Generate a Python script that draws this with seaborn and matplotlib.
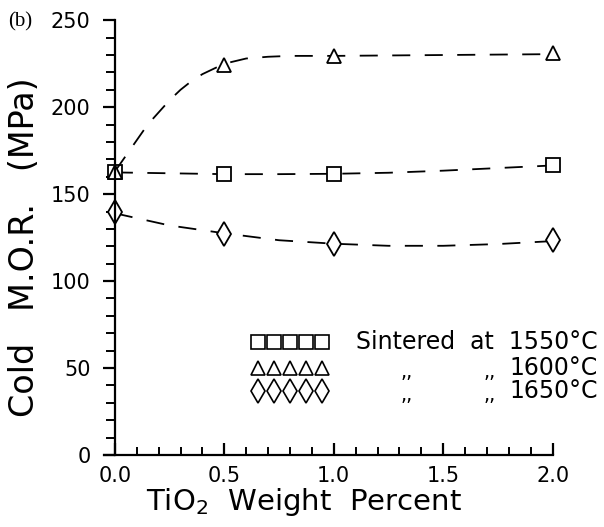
import numpy as np
import pandas as pd
import matplotlib
matplotlib.use('Agg')
import matplotlib.pyplot as plt
from matplotlib.ticker import MultipleLocator
import seaborn as sns

# measured points (TiO2 wt%, cold MOR in MPa)
tio2 = [0.0, 0.5, 1.0, 2.0]
mor_1550 = [162.5, 161.5, 161.5, 166.5]
mor_1600 = [163.0, 224.0, 229.5, 231.0]
mor_1650 = [139.5, 127.0, 121.5, 123.5]

# dashed trend curves
curve_x_1550 = [0.0, 0.25, 0.5, 0.75, 1.0, 1.25, 1.5, 1.75, 2.0]
curve_y_1550 = [162.5, 162.0, 161.5, 161.5, 161.7, 162.3, 163.5, 165.0, 166.5]
curve_x_1600 = [0.0, 0.05, 0.1, 0.15, 0.2, 0.25, 0.3, 0.35, 0.4, 0.45, 0.5,
                0.6, 0.7, 0.8, 1.0, 1.5, 2.0]
curve_y_1600 = [163.0, 172.0, 181.0, 190.0, 197.0, 204.0, 210.0, 215.0, 219.0,
                222.0, 225.0, 228.0, 229.0, 229.5, 229.5, 230.0, 230.5]
curve_x_1650 = [0.0, 0.25, 0.5, 0.75, 1.0, 1.25, 1.5, 1.75, 2.0]
curve_y_1650 = [139.0, 132.0, 127.5, 123.5, 121.5, 120.3, 120.3, 121.3, 123.0]

x_ticks = [0.0, 0.5, 1.0, 1.5, 2.0]
y_ticks = [0, 50, 100, 150, 200, 250]

sns.set_style('ticks')
plt.rcParams['font.family'] = ['DejaVu Sans']
plt.rcParams['text.color'] = 'black'
plt.rcParams['axes.labelcolor'] = 'black'
plt.rcParams['xtick.color'] = 'black'
plt.rcParams['ytick.color'] = 'black'
plt.rcParams['axes.edgecolor'] = 'black'

fig = plt.figure(figsize=(6.04, 5.27), dpi=100)
ax = fig.add_axes([0.172, 0.1366, 0.743, 0.825])

series = [
    (curve_x_1550, curve_y_1550, mor_1550, 's', 10),
    (curve_x_1600, curve_y_1600, mor_1600, '^', 10),
    (curve_x_1650, curve_y_1650, mor_1650, 'd', 12),
]
for cx, cy, pts, mk, ms in series:
    sns.lineplot(x=cx, y=cy, ax=ax, color='black', linewidth=1.3,
                 dashes=False, linestyle=(0, (10, 8)), clip_on=False)
    sns.lineplot(x=tio2, y=pts, ax=ax, color='black', linestyle='',
                 marker=mk, markersize=ms, markerfacecolor='white',
                 markeredgecolor='black', markeredgewidth=1.3, clip_on=False)

ax.set_xlim(-0.05, 2.0)
ax.set_ylim(0, 250)
ax.spines['left'].set_position(('data', 0))
ax.spines['top'].set_visible(False)
ax.spines['right'].set_visible(False)
for s in ['left', 'bottom']:
    ax.spines[s].set_linewidth(1.6)

ax.set_xticks(x_ticks)
ax.set_xticklabels([f'{v:.1f}' for v in x_ticks])
ax.set_yticks(y_ticks)
ax.xaxis.set_minor_locator(MultipleLocator(0.1))
ax.yaxis.set_minor_locator(MultipleLocator(10))
ax.tick_params(axis='x', which='major', direction='in', length=9, width=1.6,
               labelsize=15, pad=8)
ax.tick_params(axis='x', which='minor', direction='in', length=5.5, width=1.4)
ax.tick_params(axis='y', which='major', direction='out', length=8.5, width=1.6,
               labelsize=15, pad=9)
ax.tick_params(axis='y', which='minor', direction='out', length=6.5, width=1.4)

ax.set_xlabel('TiO$_2$  Weight  Percent', fontsize=21)
ax.xaxis.set_label_coords(0.445, -0.072)
ax.set_ylabel('Cold   M.O.R.   (MPa)', fontsize=24)
ax.yaxis.set_label_coords(-0.14, 0.478)

# hand drawn key in the lower right
key_rows = [('s', 10, 0.26, 'Sintered  at  1550°C'),
            ('^', 10, 0.20, '1600°C'),
            ('d', 12, 0.148, '1650°C')]
key_x = np.linspace(0.343, 0.485, 5)
for mk, ms, ky, label in key_rows:
    ax.plot(key_x, [ky] * 5, linestyle='', marker=mk, markersize=ms,
            markerfacecolor='white', markeredgecolor='black',
            markeredgewidth=1.2, transform=ax.transAxes, clip_on=False)
    ax.text(1.1, ky, label, transform=ax.transAxes, fontsize=17,
            va='center', ha='right')
    if not label.startswith('Sintered'):
        ax.text(0.675, ky - 0.01, ',,', transform=ax.transAxes, fontsize=14,
                va='center', ha='center')
        ax.text(0.86, ky - 0.01, ',,', transform=ax.transAxes, fontsize=14,
                va='center', ha='center')

fig.text(0.013, 0.958, '(b)', fontsize=15, family='Liberation Serif',
         va='center', ha='left')

fig.savefig('out.png', dpi=100, facecolor='white')
